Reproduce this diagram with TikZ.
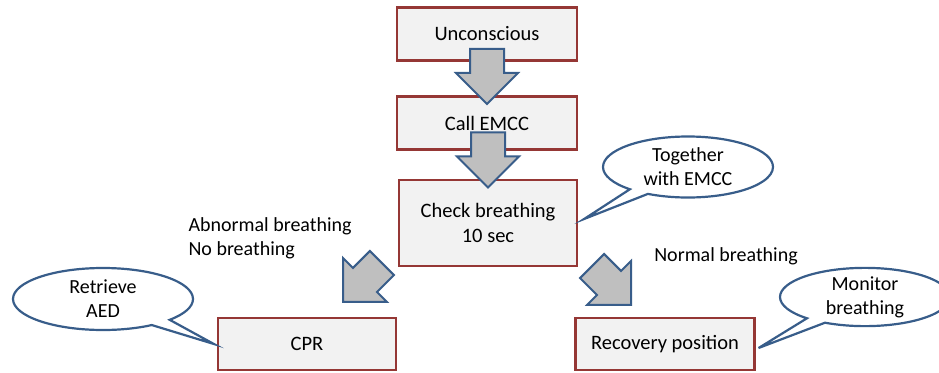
\documentclass[tikz,border=0pt]{standalone}
\usepackage{fontspec}
\setmainfont{Carlito}
\usetikzlibrary{shapes.arrows,shapes.callouts}
\definecolor{boxred}{RGB}{149,55,53}
\definecolor{boxfill}{RGB}{242,242,242}
\definecolor{calloutblue}{RGB}{56,93,138}
\definecolor{arrowgray}{RGB}{191,191,191}

\begin{document}
\begin{tikzpicture}[x=1pt,y=-1pt,
	box/.style={rectangle,draw=boxred,fill=boxfill,line width=2.2pt,minimum width=180pt,minimum height=53pt,align=center,font=\fontsize{20.5}{25}\selectfont},
	bubble/.style={ellipse callout,draw=calloutblue,fill=white,line width=2.2pt,align=center,inner sep=0pt,font=\fontsize{20}{24}\selectfont},
	blockarrow/.style={single arrow,draw=calloutblue,fill=arrowgray,line width=2pt,inner xsep=0pt,inner ysep=16pt,single arrow head extend=14pt,minimum height=55pt,anchor=tip},
	note/.style={align=left,font=\fontsize{20}{24}\selectfont}]
			\useasboundingbox (0,0) rectangle (939,372);
			\draw (487,34) node [box] (uncon) {Unconscious};
			\draw (487,123) node [box] (call) {Call EMCC};
			\draw (488,223) node [box,minimum width=178pt,minimum height=86pt] (chk) {Check breathing\\10 sec};
			\draw (307,344) node [box,minimum width=178pt,minimum height=52pt] (cpr) {CPR};
			\draw (665,344) node [box,minimum width=179pt,minimum height=52pt] (rec) {Recovery position};
			\draw ([yshift=-10pt]call.north) node [blockarrow,rotate=-90] (a1) {};
			\draw ([yshift=-10pt]chk.north) node [blockarrow,rotate=-90] (a2) {};
			\draw ([xshift=35pt,yshift=14pt]cpr.north) node [blockarrow,rotate=-135] (a3) {};
			\draw ([xshift=-33pt,yshift=11pt]rec.north) node [blockarrow,rotate=-45] (a4) {};
			\draw (185,238) node [note,anchor=west] (abn) {Abnormal breathing\\No breathing};
			\draw (726,256) node [note] (nrm) {Normal breathing};
			\draw (688,167) node [bubble,minimum width=170pt,minimum height=61pt,callout absolute pointer={([xshift=6pt,yshift=4pt]chk.east)}] (tog) {Together\\with EMCC};
			\draw (103,299) node [bubble,minimum width=180pt,minimum height=62pt,callout absolute pointer={([xshift=-3pt]cpr.west)}] (aed) {Retrieve\\AED};
			\draw (865,297) node [bubble,minimum width=170pt,minimum height=57pt,callout absolute pointer={([xshift=3pt,yshift=-4pt]rec.east)}] (mon) {Monitor\\breathing};
		\end{tikzpicture}
\end{document}
